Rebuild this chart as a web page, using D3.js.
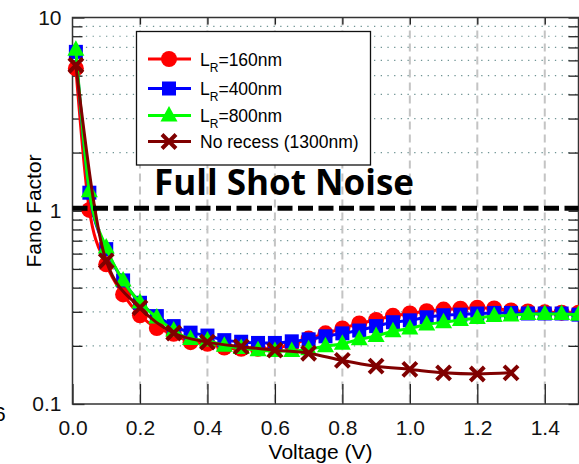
<!DOCTYPE html>
<html lang="en">
<head>
<meta charset="UTF-8">
<title>Fano Factor</title>
<script src="https://cdnjs.cloudflare.com/ajax/libs/d3/7.8.5/d3.min.js"></script>
<style>
    body { margin: 0; background: #fff; }
    svg { display: block; }
    text { font-family: "Liberation Sans", Arial, sans-serif; }
</style>
</head>
<body>
<script>

let width = 579
let height = 464

// voltages shared by the three recessed devices
const voltage = [0.01, 0.05, 0.1, 0.15, 0.2, 0.25, 0.3, 0.35, 0.4, 0.45, 0.5, 0.55, 0.6, 0.65, 0.7, 0.75,
    0.8, 0.85, 0.9, 0.95, 1.0, 1.05, 1.1, 1.15, 1.2, 1.25, 1.3, 1.35, 1.4, 1.45, 1.5]
const fanoL160 = [5.45, 1.01, 0.528, 0.369, 0.288, 0.247, 0.231, 0.209, 0.205, 0.196, 0.193, 0.193, 0.195, 0.203, 0.218,
    0.232, 0.246, 0.261, 0.272, 0.286, 0.294, 0.302, 0.308, 0.311, 0.315, 0.312, 0.305, 0.301, 0.298, 0.297, 0.297]
const fanoL400 = [6.64, 1.24, 0.633, 0.436, 0.334, 0.285, 0.253, 0.234, 0.226, 0.214, 0.21, 0.207, 0.207, 0.211, 0.216,
    0.224, 0.232, 0.24, 0.253, 0.265, 0.271, 0.281, 0.288, 0.29, 0.294, 0.296, 0.296, 0.294, 0.294, 0.294, 0.29]
const fanoL800 = [6.8, 1.26, 0.645, 0.435, 0.335, 0.28, 0.24, 0.217, 0.213, 0.2, 0.195, 0.19, 0.188, 0.188, 0.192,
    0.199, 0.205, 0.216, 0.225, 0.238, 0.246, 0.258, 0.265, 0.272, 0.279, 0.285, 0.287, 0.292, 0.292, 0.292, 0.29]

const voltageNoRecess = [0.01, 0.1, 0.2, 0.3, 0.4, 0.5, 0.6, 0.7, 0.8, 0.9, 1.0, 1.1, 1.2, 1.3]
const fanoNoRecess = [5.66, 0.55, 0.315, 0.233, 0.209, 0.198, 0.19, 0.183, 0.168, 0.157, 0.151, 0.145, 0.143, 0.145]

const fullShotNoise = 1

const xTicks = [0.0, 0.2, 0.4, 0.6, 0.8, 1.0, 1.2, 1.4]
const yMajor = [0.1, 1, 10]
const yMinor = [0.2, 0.3, 0.4, 0.5, 0.6, 0.7, 0.8, 0.9, 2, 3, 4, 5, 6, 7, 8, 9]

const series = [
    {name: "160nm", color: "#ff0000", marker: "circle", x: voltage, y: fanoL160},
    {name: "400nm", color: "#0000ff", marker: "square", x: voltage, y: fanoL400},
    {name: "800nm", color: "#00ff00", marker: "triangle", x: voltage, y: fanoL800},
    {name: "No recess (1300nm)", color: "#800000", marker: "cross", x: voltageNoRecess, y: fanoNoRecess}
]

let plotL = 72.5, plotR = 578.5, plotT = 17.5, plotB = 404

let x = d3.scaleLinear().domain([0, 1.5]).range([plotL, plotR])
let y = d3.scaleLog().domain([0.1, 10]).range([plotB, plotT])

let svg = d3.select("body").append("svg")
    .attr("width", width)
    .attr("height", height)

// grid: dotted minor horizontal, dashed grey vertical
svg.append("g").selectAll("line")
    .data(yMinor)
    .enter().append("line")
        .attr("x1", plotL).attr("x2", plotR)
        .attr("y1", d => y(d)).attr("y2", d => y(d))
        .attr("stroke", "#6f9494")
        .attr("stroke-width", 1.2)
        .attr("stroke-dasharray", "1.3,5.4")

svg.append("g").selectAll("line")
    .data(xTicks.slice(1))
    .enter().append("line")
        .attr("x1", d => x(d)).attr("x2", d => x(d))
        .attr("y1", plotT).attr("y2", plotB)
        .attr("stroke", "#c4c4c4")
        .attr("stroke-width", 2)
        .attr("stroke-dasharray", "8,5")

// axes, ticks pointing inward
svg.append("g")
    .attr("transform", `translate(0,${plotB})`)
    .call(d3.axisBottom(x).tickValues(xTicks).tickSize(-20).tickPadding(16).tickFormat(d3.format(".1f")))
svg.append("g")
    .attr("transform", `translate(0,${plotT})`)
    .call(d3.axisTop(x).tickValues(xTicks.slice(1)).tickSize(-7).tickFormat(""))
svg.append("g")
    .attr("transform", `translate(${plotL},0)`)
    .call(d3.axisLeft(y).tickValues(yMajor).tickSize(-12).tickPadding(11).tickFormat(d3.format("~g")))
svg.append("g")
    .attr("transform", `translate(${plotL},0)`)
    .call(d3.axisLeft(y).tickValues(yMinor).tickSize(-10).tickFormat(""))
svg.append("g")
    .attr("transform", `translate(${plotR},0)`)
    .call(d3.axisRight(y).tickValues(yMinor.concat(yMajor)).tickSize(-10).tickFormat(""))

svg.selectAll(".domain").remove()
svg.selectAll(".tick line").attr("stroke", "#222").attr("stroke-width", 1.3)
svg.selectAll(".tick text")
    .attr("fill", "#111")
    .style("font-size", "21px")
    .style("font-family", "'Liberation Sans', Arial, sans-serif")

svg.append("rect")
    .attr("x", plotL).attr("y", plotT)
    .attr("width", plotR - plotL).attr("height", plotB - plotT)
    .attr("fill", "none")
    .attr("stroke", "#333")
    .attr("stroke-width", 1.5)

// axis titles
svg.append("text")
    .attr("x", (plotL + plotR) / 2 - 5)
    .attr("y", 459)
    .attr("text-anchor", "middle")
    .style("font-size", "21px")
    .text("Voltage (V)")

svg.append("text")
    .attr("transform", "translate(41,211) rotate(-90)")
    .attr("text-anchor", "middle")
    .style("font-size", "21px")
    .text("Fano Factor")

// stray glyph from the neighbouring panel
svg.append("text")
    .attr("x", -6).attr("y", 421)
    .style("font-size", "21px")
    .text("6")

svg.append("text")
    .attr("x", 154).attr("y", 195)
    .attr("textLength", 260)
    .attr("lengthAdjust", "spacingAndGlyphs")
    .style("font-family", "'Open Sans', 'Noto Sans', sans-serif")
    .style("font-weight", "bold")
    .style("font-size", "35px")
    .text("Full Shot Noise")

function drawMarker(g, type, color) {
    if (type == "circle") {
        g.append("circle").attr("r", 8).attr("fill", color)
    } else if (type == "square") {
        g.append("rect").attr("x", -7).attr("y", -7).attr("width", 14).attr("height", 14).attr("fill", color)
    } else if (type == "triangle") {
        g.append("path").attr("d", "M0,-9.5L8.5,6L-8.5,6Z").attr("fill", color)
    } else {
        g.append("path").attr("d", "M-7,-7L7,7M-7,7L7,-7")
            .attr("stroke", color).attr("stroke-width", 4).attr("fill", "none")
    }
}

let line = d3.line()
    .x(d => x(d[0]))
    .y(d => y(d[1]))
    .curve(d3.curveMonotoneX)

series.forEach(s => {
    let pts = s.x.map((v, i) => [v, s.y[i]])
    svg.append("path")
        .attr("d", line(pts))
        .attr("fill", "none")
        .attr("stroke", s.color)
        .attr("stroke-width", 3)
    svg.append("g").selectAll("g")
        .data(pts)
        .enter().append("g")
            .attr("transform", d => `translate(${x(d[0])},${y(d[1])})`)
            .each(function() { drawMarker(d3.select(this), s.marker, s.color) })
})

// full shot noise reference
svg.append("line")
    .attr("x1", plotL).attr("x2", plotR)
    .attr("y1", y(fullShotNoise) - 2.5).attr("y2", y(fullShotNoise) - 2.5)
    .attr("stroke", "#000")
    .attr("stroke-width", 5)
    .attr("stroke-dasharray", "15,5.5")

// legend
let legend = svg.append("g")
legend.append("rect")
    .attr("x", 136.5).attr("y", 31.5)
    .attr("width", 234).attr("height", 133.5)
    .attr("fill", "#fff")
    .attr("stroke", "#111")
    .attr("stroke-width", 1.3)

let rowY = [59, 88.5, 115.5, 141.5]
series.forEach((s, i) => {
    let row = legend.append("g").attr("transform", `translate(0,${rowY[i]})`)
    row.append("line")
        .attr("x1", 148).attr("x2", 191)
        .attr("stroke", s.color).attr("stroke-width", 3)
    drawMarker(row.append("g").attr("transform", "translate(169,0)"), s.marker, s.color)
    let t = row.append("text")
        .attr("x", 200).attr("y", 6.5)
        .style("font-size", "17.5px")
    if (s.marker == "cross") {
        t.text(s.name)
    } else {
        t.append("tspan").text("L")
        t.append("tspan").attr("dy", 6).style("font-size", "12px").text("R")
        t.append("tspan").attr("dy", -6).text("=" + s.name)
    }
})

</script>
</body>
</html>
